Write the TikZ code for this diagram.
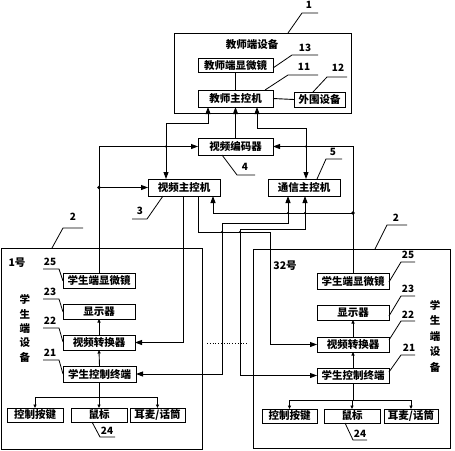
\documentclass[tikz,border=0pt]{standalone}
\usepackage{fontspec}
\setmainfont{Noto Sans CJK SC}
\usetikzlibrary{arrows.meta}
\begin{document}
\begin{tikzpicture}[x=1pt,y=-1pt,
  every node/.style={inner sep=0pt, outer sep=0pt},
  box/.style={draw, line width=1pt, font=\fontsize{10.5}{12}\selectfont\bfseries},
  frame/.style={draw, line width=1pt},
  num/.style={font=\fontsize{10}{12}\selectfont\bfseries},
  txt/.style={font=\fontsize{10.5}{12}\selectfont\bfseries},
  wire/.style={line width=0.9pt},
  ldr/.style={line width=0.8pt},
  bigtip/.style={wire,-{Triangle[length=7pt,width=5pt]}},
  bothtip/.style={wire,{Triangle[length=7pt,width=5pt]}-{Triangle[length=7pt,width=5pt]}},
  smalltip/.style={wire,-{Triangle[length=3.5pt,width=3pt]}},
  dot/.style={circle, fill, minimum size=3.8pt},
  sdot/.style={circle, fill, minimum size=2.2pt},
]
\useasboundingbox (0,0) rectangle (455,450);

% ---------- teacher side ----------
\node[frame, minimum width=177pt, minimum height=80pt] (teacher) at (262.5,73) {};
\node[txt] (ttitle) at (252,45) {教师端设备};
\node[box, minimum width=75pt, minimum height=14pt] (tscope) at (235.5,65) {教师端显微镜};
\node[box, minimum width=75pt, minimum height=17pt] (tmain) at (235.5,98.5) {教师主控机};
\node[box, minimum width=51pt, minimum height=15pt] (periph) at (319.5,99.5) {外围设备};
\draw[wire] (tscope.south) -- (tmain.north);
\draw[wire] (tmain.east) -- (periph.west);

% ---------- middle ----------
\node[box, minimum width=75pt, minimum height=17pt] (encoder) at (235.5,146.5) {视频编码器};
\node[box, minimum width=72pt, minimum height=17pt] (vmain) at (184,187.5) {视频主控机};
\node[box, minimum width=72pt, minimum height=17pt] (cmain) at (304,187.5) {通信主控机};

% ---------- student 1 ----------
\node[frame, minimum width=201pt, minimum height=201pt] (stu1) at (101.5,348.5) {};
\node[txt] (s1no) at (17,263) {1号};
\node[box, minimum width=72pt, minimum height=15pt] (s1scope) at (99,280.5) {学生端显微镜};
\node[box, minimum width=72pt, minimum height=15pt] (s1disp) at (99,311.5) {显示器};
\node[box, minimum width=72pt, minimum height=15pt] (s1conv) at (99,342.5) {视频转换器};
\node[box, minimum width=73pt, minimum height=16pt] (s1term) at (99.5,374) {学生控制终端};
\node[box, minimum width=56pt, minimum height=14pt] (s1key) at (35,415) {控制按键};
\node[box, minimum width=56pt, minimum height=14pt] (s1mouse) at (99,415) {鼠标};
\node[box, minimum width=55pt, minimum height=14pt] (s1head) at (157.5,415) {耳麦/话筒};
\node[font=\fontsize{10.5}{14.3}\selectfont\bfseries, align=center] (s1v) at (25,328.5) {学\\生\\端\\设\\备};

% ---------- student 32 ----------
\node[frame, minimum width=197pt, minimum height=199pt] (stu2) at (351.5,348.5) {};
\node[txt] (s2no) at (285,266) {32号};
\node[box, minimum width=72pt, minimum height=16pt] (s2scope) at (353,281) {学生端显微镜};
\node[box, minimum width=72pt, minimum height=15pt] (s2disp) at (353,312.5) {显示器};
\node[box, minimum width=72pt, minimum height=15pt] (s2conv) at (353,344.5) {视频转换器};
\node[box, minimum width=72pt, minimum height=15pt] (s2term) at (353,375.5) {学生控制终端};
\node[box, minimum width=55pt, minimum height=14pt] (s2key) at (289.5,416) {控制按键};
\node[box, minimum width=56pt, minimum height=14pt] (s2mouse) at (352,416) {鼠标};
\node[box, minimum width=54pt, minimum height=14pt] (s2head) at (411,416) {耳麦/话筒};
\node[font=\fontsize{10.5}{15.5}\selectfont\bfseries, align=center] (s2v) at (435,336) {学\\生\\端\\设\\备};

% ---------- main connectors ----------
\draw[bigtip] (encoder.north) -- (tmain.south);
\draw[bothtip] ([xshift=-27.5pt]tmain.south) -- (208,123) -- (166,123) -- ([xshift=-18pt]vmain.north);
\draw[bothtip] ([xshift=21.5pt]tmain.south) -- (257,128) -- (306,128) -- ([xshift=2pt]cmain.north);

\draw[bigtip] (s1scope.north) |- (encoder.west);
\coordinate (j1) at (s1scope.north |- vmain.west);
\draw[bigtip] (j1) -- (vmain.west);
\draw[bigtip] (s2scope.north) |- (encoder.east);
\coordinate (j2) at (353,213);
\draw[bigtip] (j2) -| ([xshift=29pt]vmain.south);

\draw[bigtip] ([xshift=-1pt]vmain.south) |- (s1conv.east);
\draw[bigtip] ([xshift=14pt]vmain.south) -- (198,232) -- (270,232) |- (s2conv.west);
\draw[bothtip] ([xshift=-16pt]cmain.south) -- (288,223) -- (222,223) |- (s1term.east);
\draw[bothtip] ([xshift=1pt]cmain.south) -- (305,229) -- (240,229) |- (s2term.west);

\node[dot] at (j1) {};
\node[dot] at (j2) {};
\node[sdot] at (166,146.5) {};
\node[sdot] at (306,146.5) {};
\node[sdot] at (288,213) {};
\node[sdot] at (305,213) {};
\node[sdot] at (222,232) {};
\node[sdot] at (240,232) {};

\draw[line width=0.8pt, dotted] (207,343) -- (247,343);

% ---------- internal student 1 ----------
\draw[smalltip] (s1conv.north) -- (s1disp.south);
\draw[smalltip] (s1term.north) -- (s1conv.south);
\draw[wire] (s1term.south) -- (s1term.south |- 0,397);
\draw[wire] (s1key.north |- 0,397) -- (s1head.north |- 0,397);
\draw[smalltip] (s1key.north |- 0,397) -- (s1key.north);
\draw[smalltip] (s1mouse.north |- 0,397) -- (s1mouse.north);
\draw[smalltip] (s1head.north |- 0,397) -- (s1head.north);

% ---------- internal student 32 ----------
\draw[smalltip] (s2conv.north) -- (s2disp.south);
\draw[smalltip] (s2term.north) -- (s2conv.south);
\draw[wire] (s2term.south) -- (s2term.south |- 0,400);
\draw[wire] (s2key.north |- 0,400) -- (s2head.north |- 0,400);
\draw[smalltip] (s2key.north |- 0,400) -- (s2key.north);
\draw[smalltip] (s2mouse.north |- 0,400) -- (s2mouse.north);
\draw[smalltip] (s2head.north |- 0,400) -- (s2head.north);

% ---------- reference numbers ----------
\node[num] (n1) at (309,5) {1};
\draw[ldr] (288,33) -- (302,13) -- (318,13);
\node[num] (n13) at (305,48) {13};
\draw[ldr] (273,68) -- (292,55) -- (318,55);
\node[num] (n11) at (304,67) {11};
\draw[ldr] (265,90) -- (288,75) -- (318,75);
\node[num] (n12) at (338,68) {12};
\draw[ldr] (313,92) -- (327,77) -- (347,77);
\node[num] (n4) at (245,167) {4};
\draw[ldr] (222,155) -- (237,175) -- (255,175);
\node[num] (n5) at (333,152) {5};
\draw[ldr] (317,179) -- (326,159) -- (342,159);
\node[num] (n3) at (140,211) {3};
\draw[ldr] (163,196) -- (147,219) -- (132,219);

\node[num] (n2a) at (73,217) {2};
\draw[ldr] (52,248) -- (63,228) -- (83,228);
\node[num] (n2b) at (396,218) {2};
\draw[ldr] (375,249) -- (387,225) -- (407,225);

\node[num] (n25a) at (50,262) {25};
\draw[ldr] (43,269) -- (59,269) -- (63,281);
\node[num] (n23a) at (50,292) {23};
\draw[ldr] (43,299) -- (59,299) -- (63,312);
\node[num] (n22a) at (50,321) {22};
\draw[ldr] (43,328) -- (59,328) -- (63,342);
\node[num] (n21a) at (50,353) {21};
\draw[ldr] (43,360) -- (59,360) -- (63,374);
\node[num] (n24a) at (107,431) {24};
\draw[ldr] (92,422) -- (100,437) -- (115,437);

\node[num] (n25b) at (408,255) {25};
\draw[ldr] (389,282) -- (401,262) -- (415,262);
\node[num] (n23b) at (408,289) {23};
\draw[ldr] (389,316) -- (401,296) -- (415,296);
\node[num] (n22b) at (408,315) {22};
\draw[ldr] (389,340) -- (401,321) -- (415,321);
\node[num] (n21b) at (409,348) {21};
\draw[ldr] (389,372) -- (401,355) -- (415,355);
\node[num] (n24b) at (360,434) {24};
\draw[ldr] (345,423) -- (353,440) -- (367,440);
\end{tikzpicture}
\end{document}
